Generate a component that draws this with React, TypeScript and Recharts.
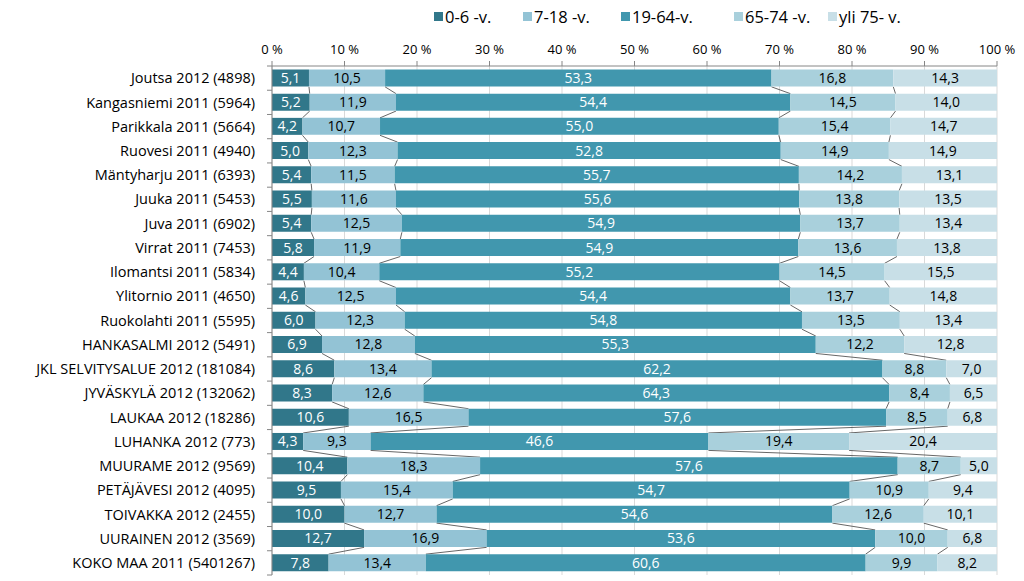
import React from 'react';
import * as R from 'recharts';

const { BarChart, Bar, XAxis, YAxis, CartesianGrid, LabelList, Customized } = R as any;

const categories = [
  'Joutsa 2012 (4898)',
  'Kangasniemi 2011 (5964)',
  'Parikkala 2011 (5664)',
  'Ruovesi 2011 (4940)',
  'Mäntyharju 2011 (6393)',
  'Juuka 2011 (5453)',
  'Juva 2011 (6902)',
  'Virrat 2011 (7453)',
  'Ilomantsi 2011 (5834)',
  'Ylitornio 2011 (4650)',
  'Ruokolahti 2011 (5595)',
  'HANKASALMI 2012 (5491)',
  'JKL SELVITYSALUE 2012 (181084)',
  'JYVÄSKYLÄ 2012 (132062)',
  'LAUKAA 2012 (18286)',
  'LUHANKA 2012 (773)',
  'MUURAME 2012 (9569)',
  'PETÄJÄVESI 2012 (4095)',
  'TOIVAKKA 2012 (2455)',
  'UURAINEN 2012 (3569)',
  'KOKO MAA 2011 (5401267)',
];

const age0_6 = [5.1, 5.2, 4.2, 5.0, 5.4, 5.5, 5.4, 5.8, 4.4, 4.6, 6.0, 6.9, 8.6, 8.3, 10.6, 4.3, 10.4, 9.5, 10.0, 12.7, 7.8];
const age7_18 = [10.5, 11.9, 10.7, 12.3, 11.5, 11.6, 12.5, 11.9, 10.4, 12.5, 12.3, 12.8, 13.4, 12.6, 16.5, 9.3, 18.3, 15.4, 12.7, 16.9, 13.4];
const age19_64 = [53.3, 54.4, 55.0, 52.8, 55.7, 55.6, 54.9, 54.9, 55.2, 54.4, 54.8, 55.3, 62.2, 64.3, 57.6, 46.6, 57.6, 54.7, 54.6, 53.6, 60.6];
const age65_74 = [16.8, 14.5, 15.4, 14.9, 14.2, 13.8, 13.7, 13.6, 14.5, 13.7, 13.5, 12.2, 8.8, 8.4, 8.5, 19.4, 8.7, 10.9, 12.6, 10.0, 9.9];
const age75 = [14.3, 14.0, 14.7, 14.9, 13.1, 13.5, 13.4, 13.8, 15.5, 14.8, 13.4, 12.8, 7.0, 6.5, 6.8, 20.4, 5.0, 9.4, 10.1, 6.8, 8.2];

const seriesNames = ['0-6 -v.', '7-18 -v.', '19-64-v.', '65-74 -v.', 'yli 75- v.'];
const seriesKeys = ['a', 'b', 'c', 'd', 'e'];
const seriesColors = ['#31778A', '#93C3D5', '#4197AE', '#A9D0DC', '#C8DFE7'];
const labelColors = ['#FFFFFF', '#000000', '#FFFFFF', '#000000', '#000000'];
const xTicks = [0, 10, 20, 30, 40, 50, 60, 70, 80, 90, 100];

const seriesValues = [age0_6, age7_18, age19_64, age65_74, age75];

const data = categories.map((name, i) => {
  const row: any = { name };
  seriesKeys.forEach((k, s) => {
    row[k] = seriesValues[s][i];
  });
  return row;
});

const FONT = '"Open Sans", "Liberation Sans", sans-serif';
const W = 1024;
const H = 581;
const MARGIN = { top: 36, right: 27, bottom: 6, left: 0 };
const Y_W = 272;
const X_H = 30;
const GAP = 0.14;
const LEGEND_LEFT = [434, 523, 621, 734, 828];

const usePlotAreaHook: any = (R as any).usePlotArea || (() => null);

function SeriesLines() {
  const area = usePlotAreaHook();
  const left = area ? area.x : MARGIN.left + Y_W;
  const top = area ? area.y : MARGIN.top + X_H;
  const width = area ? area.width : W - MARGIN.right - left;
  const height = area ? area.height : H - MARGIN.bottom - top;
  const n = data.length;
  const band = height / n;
  const gap = band * GAP;
  const cum = data.map((row) => {
    const total = seriesKeys.reduce((s, k) => s + row[k], 0);
    const out: number[] = [];
    let acc = 0;
    for (let s = 0; s < seriesKeys.length - 1; s++) {
      acc += row[seriesKeys[s]];
      out.push(left + (acc / total) * width);
    }
    return out;
  });
  const lines: any[] = [];
  for (let i = 0; i < n - 1; i++) {
    for (let s = 0; s < seriesKeys.length - 1; s++) {
      lines.push(
        <line
          key={`l${i}-${s}`}
          x1={cum[i][s]}
          y1={top + (i + 1) * band - gap}
          x2={cum[i + 1][s]}
          y2={top + (i + 1) * band + gap}
          stroke="#404040"
          strokeWidth={0.8}
        />
      );
    }
  }
  const ticks: any[] = [];
  for (let i = 0; i <= n; i++) {
    ticks.push(
      <line key={`t${i}`} x1={left - 5} x2={left} y1={top + i * band} y2={top + i * band} stroke="#868686" strokeWidth={1} />
    );
  }
  return (
    <g>
      {lines}
      {ticks}
    </g>
  );
}

function LegendBlock() {
  return (
    <div style={{ position: 'absolute', top: 5, left: 0, fontFamily: FONT, fontSize: 16.5, color: '#000' }}>
      {seriesNames.map((n, i) => (
        <div
          key={n}
          style={{ position: 'absolute', left: LEGEND_LEFT[i], top: 0, display: 'flex', alignItems: 'center', whiteSpace: 'nowrap' }}
        >
          <span style={{ width: 9, height: 9, background: seriesColors[i], display: 'inline-block', marginRight: 2 }} />
          <span>{n}</span>
        </div>
      ))}
    </div>
  );
}

const fmt = (v: any) => Number(v).toFixed(1).replace('.', ',');

export default function App() {
  return (
    <div style={{ position: 'absolute', left: 0, top: 0, width: W, height: H, background: '#fff' }}>
      <BarChart
        width={W}
        height={H}
        data={data}
        layout="vertical"
        stackOffset="expand"
        margin={MARGIN}
        barCategoryGap="14%"
      >
        <CartesianGrid horizontal={false} vertical stroke="#D9D9D9" />
        <XAxis
          type="number"
          orientation="top"
          domain={[0, 1]}
          ticks={xTicks.map((t) => t / 100)}
          tickFormatter={(v: number) => `${Math.round(v * 100)} %`}
          height={X_H}
          axisLine={{ stroke: '#868686' }}
          tickLine={{ stroke: '#868686' }}
          tickSize={5}
          tickMargin={7}
          tick={{ fontFamily: FONT, fontSize: 13, fill: '#000' }}
          interval={0}
        />
        <YAxis
          type="category"
          dataKey="name"
          width={Y_W}
          axisLine={{ stroke: '#868686' }}
          tickLine={false}
          tickSize={8}
          tickMargin={9}
          interval={0}
          tick={{ fontFamily: FONT, fontSize: 14.5, fill: '#000' }}
        />
        {seriesKeys.map((k, s) => (
          <Bar key={k} dataKey={k} name={seriesNames[s]} stackId="s" fill={seriesColors[s]} isAnimationActive={false}>
            <LabelList
              dataKey={k}
              position="center"
              formatter={fmt}
              style={{ fontFamily: FONT, fontSize: 14, fill: labelColors[s] }}
            />
          </Bar>
        ))}
        <Customized component={<SeriesLines />} />
      </BarChart>
      <LegendBlock />
    </div>
  );
}
